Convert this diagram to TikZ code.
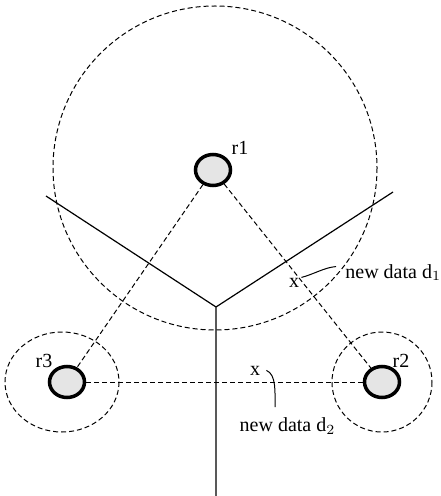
\documentclass[tikz,border=0pt]{standalone}
\usepackage{fontspec}
\setmainfont{Liberation Serif}
\usetikzlibrary{shapes.geometric}

\begin{document}
\begin{tikzpicture}[x=0.5pt,y=-0.5pt,
  site/.style={ellipse,draw,line width=1.75pt,fill=gray!20,inner sep=0pt,
    minimum width=17.5pt,minimum height=15.5pt},
  region/.style={line width=0.5pt,dash pattern=on 2.5pt off 1.5pt},
  link/.style={line width=0.5pt,dash pattern=on 2.5pt off 1.5pt},
  border/.style={line width=0.6pt},
  leader/.style={line width=0.5pt},
  lbl/.style={inner sep=0pt,anchor=base}]
\useasboundingbox (0,0) rectangle (440,496);

  % regions round the sites
  \draw[region] (215,168) circle [radius=162];
  \draw[region] (62,382) ellipse [x radius=57,y radius=50];
  \draw[region] (382,382) ellipse [x radius=50,y radius=50];

  % cell borders
  \coordinate (v) at (216,307);
  \coordinate (vl) at (46,196);
  \coordinate (vr) at (393,192);
  \coordinate (vb) at (216,496);
  \draw[border] (vl) -- (v) -- (vr) (v) -- (vb);

  % sites
  \node[site] (r1) at (213,170) {};
  \node[site] (r2) at (382,382) {};
  \node[site] (r3) at (67,382) {};
  \node[lbl] (r1lbl) at (240,155) {r1};
  \node[lbl] (r2lbl) at (401,367) {r2};
  \node[lbl] (r3lbl) at (44,367) {r3};

  \draw[link] (r1) -- (r3);
  \draw[link] (r1) -- (r2);
  \draw[link] (r3) -- (r2);

  % new data
  \node[lbl] (x1) at (294,287) {x};
  \node[lbl,anchor=base west] (d1) at (345,278) {new data d$_1$};
  \draw[leader] ([xshift=1pt]x1.north east) .. controls +(12,-3) and +(-12,1) .. ([xshift=-4.5pt,yshift=3pt]d1.west);

  \node[lbl] (x2) at (255,375) {x};
  \node[lbl] (d2) at (287.5,431.5) {new data d$_2$};
  \draw[leader] ([xshift=3pt]x2.east) .. controls +(10,4) and +(0,-15) .. ([xshift=-6.25pt,yshift=5pt]d2.north);
\end{tikzpicture}
\end{document}
